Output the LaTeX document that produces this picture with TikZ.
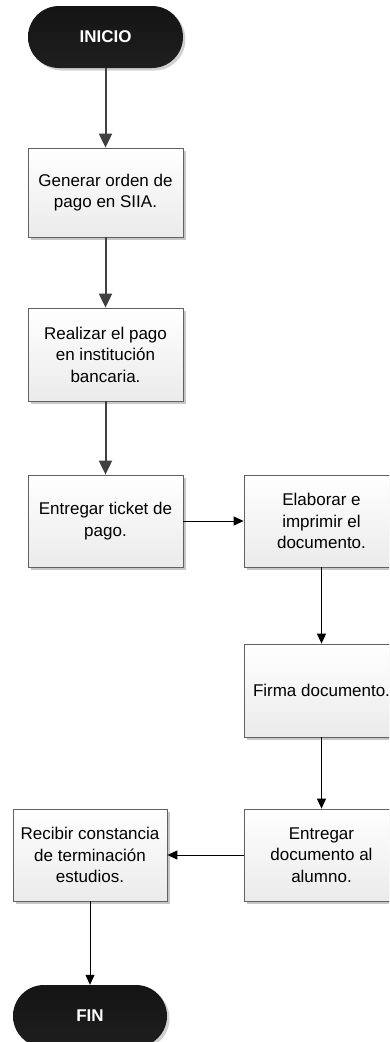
\documentclass[tikz,border=0pt]{standalone}
\usepackage{fontspec}
\setmainfont{Liberation Sans}
\usetikzlibrary{shadows,arrows.meta}
\begin{document}
\begin{tikzpicture}[x=1pt,y=-1pt,
  every node/.style={font=\fontsize{17}{21.5}\selectfont, align=center, inner sep=0pt},
  procbox/.style={draw=black!62, line width=0.8pt, top color=white, bottom color=black!8,
    minimum width=155pt, drop shadow={shadow xshift=2.5pt, shadow yshift=-2.5pt, fill=black!22, opacity=1}},
  term/.style={rounded corners=31pt, minimum width=155pt, minimum height=62pt,
    top color=black!92, bottom color=black!88, text=white, font=\fontsize{17}{21.5}\selectfont\bfseries,
    drop shadow={shadow xshift=2.5pt, shadow yshift=-2.5pt, fill=black!18, opacity=1}},
  thickarrow/.style={draw=black!75, line width=2pt, -{Triangle[width=13pt,length=14pt]}},
  thinarrow/.style={draw=black, line width=1pt, -{Triangle[width=9pt,length=10pt]}}
]
\clip (0,0) rectangle (389,1042);
\useasboundingbox (0,0) rectangle (389,1042);
\node[term] (start) at (105.5,37) {INICIO};
\node[procbox, minimum height=89pt] (b1) at (105.5,192.5) {Generar orden de\\pago en SIIA.};
\node[procbox, minimum height=93pt] (b2) at (105.5,354.5) {Realizar el pago\\en institución\\bancaria.};
\node[procbox, minimum height=92pt] (b3) at (105.5,521) {Entregar ticket de\\pago.};
\node[procbox, minimum height=92pt] (b4) at (321.5,521) {Elaborar e\\imprimir el\\documento.};
\node[procbox, minimum height=93pt] (b5) at (321.5,690.5) {Firma documento.};
\node[procbox, minimum height=92pt] (b6) at (321.5,855) {Entregar\\documento al\\alumno.};
\node[procbox, minimum height=92pt, minimum width=154pt] (b7) at (90,855) {Recibir constancia\\de terminación\\estudios.};
\node[term, minimum width=154pt] (fin) at (90,1016) {FIN};
\draw[thickarrow] (start) -- (b1);
\draw[thickarrow] (b1) -- (b2);
\draw[thickarrow] (b2) -- (b3);
\draw[thinarrow] (b3) -- (b4);
\draw[thinarrow] (b4) -- (b5);
\draw[thinarrow] (b5) -- (b6);
\draw[thinarrow] (b6) -- (b7);
\draw[thinarrow] (b7) -- (fin);
\end{tikzpicture}
\end{document}
